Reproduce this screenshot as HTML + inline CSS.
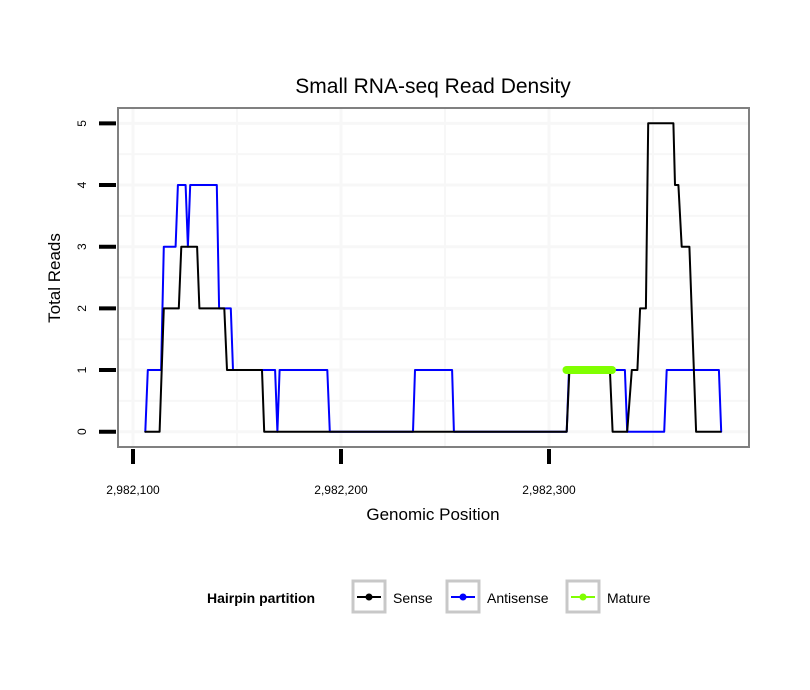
<!DOCTYPE html>
<html><head><meta charset="utf-8"><style>
body{margin:0;background:#fff}
svg{display:block;font-family:"Liberation Sans",sans-serif}
</style></head><body>
<svg id="chart" width="810" height="690">
<rect width="810" height="690" fill="#fff"/>
<text x="433" y="93" font-size="21" text-anchor="middle">Small RNA-seq Read Density</text>
<g id="grid"></g>
<g id="series"></g>
<rect x="118" y="108" width="631" height="339" fill="none" stroke="#808080" stroke-width="2"/>
<g id="axes"></g>
<text x="433" y="520" font-size="17" text-anchor="middle">Genomic Position</text>
<text transform="translate(60,278) rotate(-90)" font-size="17" text-anchor="middle">Total Reads</text>
<g>
<text x="207" y="603" font-size="14" font-weight="bold">Hairpin partition</text>
<g>
<rect x="353" y="581" width="32" height="31" fill="#fff" stroke="#c8c8c8" stroke-width="3"/>
<line x1="357" y1="597" x2="381" y2="597" stroke="#000" stroke-width="2"/><circle cx="369" cy="597" r="3.5" fill="#000"/>
<text x="393" y="603" font-size="14">Sense</text></g>
<g>
<rect x="447" y="581" width="32" height="31" fill="#fff" stroke="#c8c8c8" stroke-width="3"/>
<line x1="451" y1="597" x2="475" y2="597" stroke="#0000ff" stroke-width="2"/><circle cx="463" cy="597" r="3.5" fill="#0000ff"/>
<text x="487" y="603" font-size="14">Antisense</text></g>
<g>
<rect x="567" y="581" width="32" height="31" fill="#fff" stroke="#c8c8c8" stroke-width="3"/>
<line x1="571" y1="597" x2="595" y2="597" stroke="#80ff00" stroke-width="2"/><circle cx="583" cy="597" r="3.5" fill="#80ff00"/>
<text x="607" y="603" font-size="14">Mature</text></g>
</g>
</svg>
<script>
const base = 2982100;
const xTicks = [2982100, 2982200, 2982300];
const xTickLabels = ["2,982,100", "2,982,200", "2,982,300"];
const yTicks = [0, 1, 2, 3, 4, 5];
const senseOffsets = [5.9,12.8,14.8,22,23.2,30.8,31.9,43.9,45.2,62,63.1,208.5,209.8,229.3,230.6,237.6,239.8,242.5,243.8,246.6,247.7,259.8,260.6,262.2,263.8,267.5,270.7,282.5];
const senseValues  = [0,0,2,2,3,3,2,2,1,1,0,0,1,1,0,0,1,1,2,2,5,5,4,4,3,3,0,0];
const antiOffsets = [5.9,7.1,13.5,14.8,20.5,21.6,25.3,26.4,27.5,40.3,41.4,47,48.1,68.3,69.4,70.5,93.4,94.6,134.6,135.6,153.4,154.3,208.5,209.6,236.5,237.6,255.4,256.6,281.7,282.8];
const antiValues  = [0,1,1,3,3,4,4,3,4,4,2,2,1,1,0,1,1,0,0,1,1,0,0,1,1,0,0,1,1,0];
const matureOffsets = [208.4, 230.3];
const matureValues = [1, 1];

const NS = "http://www.w3.org/2000/svg";
const xS = p => 133 + (p - base) * 2.08;
const yS = v => 431.7 - v * 61.67;
function mk(tag, attrs, parent) {
  const e = document.createElementNS(NS, tag);
  for (const k in attrs) e.setAttribute(k, attrs[k]);
  parent.appendChild(e); return e;
}
const grid = document.getElementById('grid'), axes = document.getElementById('axes'), series = document.getElementById('series');
for (let v = 0; v <= 5.5; v += 0.5) {
  const y = yS(v); if (y < 109) continue;
  const l = mk('line', {x1:119, x2:748, y1:y, y2:y, stroke:'#f7f7f7', 'stroke-width':v%1?2:3}, grid);
  
  
}
for (let p = base; p <= base + 250; p += 50) {
  const x = xS(p);
  const l = mk('line', {x1:x, x2:x, y1:109, y2:446, stroke:'#f7f7f7', 'stroke-width':(p-base)%100?2:3}, grid);
  
  
}
yTicks.forEach(v => {
  const y = yS(v);
  const t = mk('line', {x1:99, x2:116, y1:y, y2:y, stroke:'#000', 'stroke-width':4}, axes);
  
  
  const tx = mk('text', {transform:`translate(86,${y}) rotate(-90)`, 'font-size':12, 'text-anchor':'middle'}, axes);
  tx.textContent = v;
  
  
});
xTicks.forEach((p, i) => {
  const x = xS(p);
  const t = mk('line', {x1:x, x2:x, y1:449, y2:464, stroke:'#000', 'stroke-width':4}, axes);
  
  
  const tx = mk('text', {x:x, y:494, 'font-size':12, 'text-anchor':'middle'}, axes);
  tx.textContent = xTickLabels[i];
  
  
});
function line(offs, vals, color, w, name) {
  const pts = offs.map((o, i) => xS(base + o).toFixed(1) + ',' + yS(vals[i]).toFixed(1)).join(' ');
  const pl = mk('polyline', {points:pts, fill:'none', stroke:color, 'stroke-width':w, 'stroke-linejoin':'round', 'stroke-linecap':'round'}, series);
  
  
}
line(antiOffsets, antiValues, '#0000ff', 2, 'antisense-line');
line(senseOffsets, senseValues, '#000', 2, 'sense-line');
line(matureOffsets, matureValues, '#80ff00', 8, 'mature-line');
</script>
</body></html>
